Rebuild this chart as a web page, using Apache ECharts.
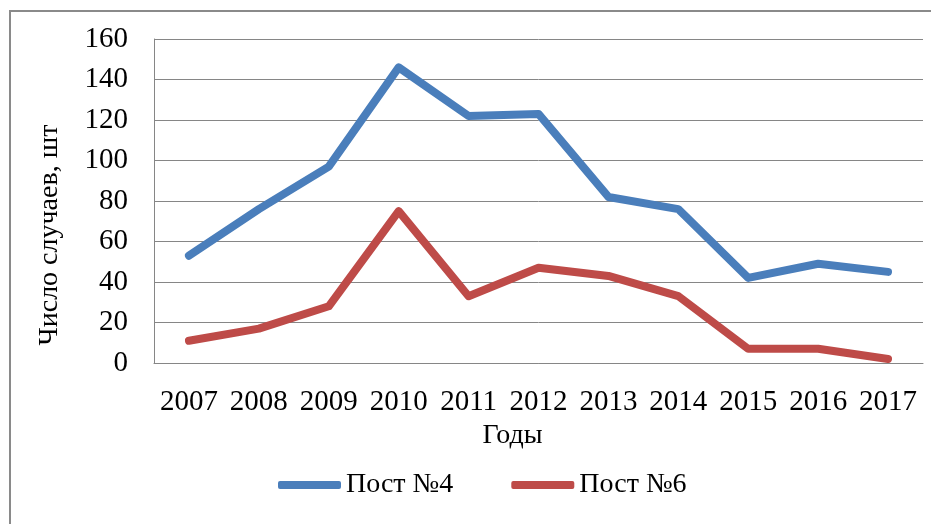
<!DOCTYPE html>
<html>
<head>
<meta charset="utf-8">
<script src="https://cdn.jsdelivr.net/npm/echarts@6/dist/echarts.min.js"></script>
<style>
  html, body { margin: 0; padding: 0; background: #fff; }
  #chart { width: 931px; height: 524px; }
</style>
</head>
<body>
<div id="chart"></div>
<script>
var years = ['2007', '2008', '2009', '2010', '2011', '2012', '2013', '2014', '2015', '2016', '2017']
var post4 = [53, 76, 97, 146, 122, 123, 82, 76, 42, 49, 45]
var post6 = [11, 17, 28, 75, 33, 47, 43, 33, 7, 7, 2]
var yTicks = { min: 0, max: 160, interval: 20 }

var font = 'Liberation Serif'
var chart = echarts.init(document.getElementById('chart'))

var option = {
  animation: false,
  textStyle: {
    fontFamily: font,
    color: '#000',
  },
  graphic: [
    {
      type: 'rect',
      shape: { x: 10, y: 11, width: 960, height: 560 },
      style: { fill: 'none', stroke: '#8a8a8a', lineWidth: 2 },
    },
  ],
  grid: {
    left: 154,
    right: 8,
    top: 39,
    bottom: 161,
  },
  legend: {
    left: 273,
    top: 466,
    icon: 'roundRect',
    itemWidth: 63,
    itemHeight: 8,
    itemGap: 58,
    textStyle: {
      fontFamily: font,
      fontSize: 28,
      color: '#000',
    },
    data: ['Пост №4', 'Пост №6'],
  },
  xAxis: {
    type: 'category',
    data: years,
    boundaryGap: true,
    name: 'Годы',
    nameLocation: 'middle',
    nameGap: 58,
    nameTextStyle: {
      fontFamily: font,
      fontSize: 28,
      color: '#000',
      padding: [0, 52, 0, 0],
    },
    axisLine: { lineStyle: { color: '#868686', width: 1 } },
    axisTick: { show: false },
    axisLabel: {
      fontFamily: font,
      fontSize: 29,
      color: '#000',
      margin: 25,
      interval: 0,
    },
  },
  yAxis: {
    type: 'value',
    min: yTicks.min,
    max: yTicks.max,
    interval: yTicks.interval,
    name: 'Число случаев, шт',
    nameLocation: 'middle',
    nameGap: 90,
    nameRotate: 90,
    nameTextStyle: {
      fontFamily: font,
      fontSize: 28,
      color: '#000',
      padding: [0, 68, 0, 0],
    },
    axisLine: { show: true, lineStyle: { color: '#868686', width: 1 } },
    axisTick: { show: false },
    axisLabel: {
      fontFamily: font,
      fontSize: 29,
      color: '#000',
      margin: 26,
    },
    splitLine: { lineStyle: { color: '#868686', width: 1 } },
  },
  series: [
    {
      name: 'Пост №4',
      type: 'line',
      data: post4,
      symbol: 'none',
      color: '#4a7ebb',
      lineStyle: { width: 8, color: '#4a7ebb', cap: 'round', join: 'round' },
    },
    {
      name: 'Пост №6',
      type: 'line',
      data: post6,
      symbol: 'none',
      color: '#be4b48',
      lineStyle: { width: 8, color: '#be4b48', cap: 'round', join: 'round' },
    },
  ],
}

chart.setOption(option)
</script>
</body>
</html>
